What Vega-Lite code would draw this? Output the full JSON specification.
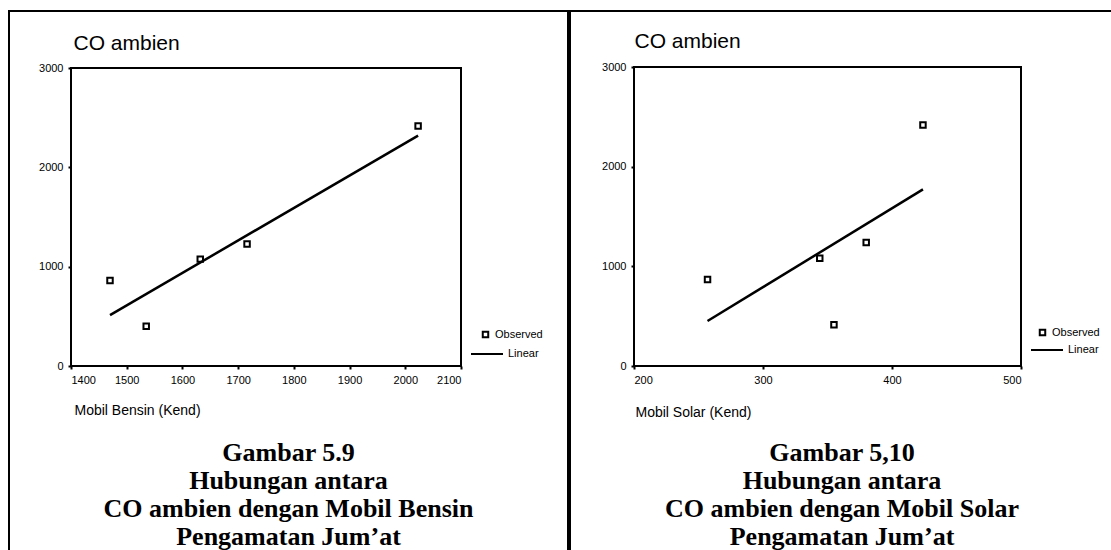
{
  "$schema": "https://vega.github.io/schema/vega-lite/v6.json",
  "padding": {"left": 8, "top": 10, "right": 0, "bottom": 0},
  "background": "white",
  "spacing": 0,
  "config": {
    "view": {"stroke": "black", "strokeWidth": 2},
    "font": "Liberation Sans",
    "axis": {"grid": false, "domain": false, "ticks": true, "tickColor": "black", "tickSize": 3, "tickWidth": 2, "labelColor": "black", "labelFont": "Liberation Sans", "labelFontSize": 11, "labelPadding": 5, "format": "d", "titleFont": "Liberation Sans", "titleFontWeight": "normal", "titleColor": "black"},
    "legend": {"labelFont": "Liberation Sans", "labelFontSize": 11, "labelColor": "black", "padding": 0},
    "title": {"font": "Liberation Serif", "fontWeight": "bold", "fontSize": 26, "color": "black", "lineHeight": 28}
  },
  "datasets": {
    "bensin_obs": [
      {"mobil": 1470, "co": 860, "series": "Observed"},
      {"mobil": 1535, "co": 400, "series": "Observed"},
      {"mobil": 1632, "co": 1076, "series": "Observed"},
      {"mobil": 1716, "co": 1228, "series": "Observed"},
      {"mobil": 2023, "co": 2417, "series": "Observed"}
    ],
    "bensin_lin": [
      {"mobil": 1470, "co": 512, "series": "Linear"},
      {"mobil": 2023, "co": 2320, "series": "Linear"}
    ],
    "solar_obs": [
      {"mobil": 257, "co": 868, "series": "Observed"},
      {"mobil": 355, "co": 415, "series": "Observed"},
      {"mobil": 344, "co": 1080, "series": "Observed"},
      {"mobil": 380, "co": 1240, "series": "Observed"},
      {"mobil": 424, "co": 2417, "series": "Observed"}
    ],
    "solar_lin": [
      {"mobil": 257, "co": 451, "series": "Linear"},
      {"mobil": 424, "co": 1772, "series": "Linear"}
    ],
    "frame": [{}]
  },
  "hconcat": [
    {
      "width": 559,
      "height": 540,
      "title": {"text": ["Gambar 5.9", "Hubungan antara", "CO ambien dengan Mobil Bensin", "Pengamatan Jum’at"], "orient": "bottom", "anchor": "middle", "frame": "group", "offset": -111},
      "layer": [
        {
          "data": {"name": "bensin_obs"},
          "mark": {"type": "point", "shape": "square", "filled": false, "color": "black", "strokeWidth": 2, "size": 30, "opacity": 1},
          "encoding": {
            "x": {"field": "mobil", "type": "quantitative", "scale": {"domain": [1400, 2100], "range": [62, 452], "nice": false, "zero": false}, "axis": {"orient": "bottom", "offset": -185, "values": [1400, 1500, 1600, 1700, 1800, 1900, 2000, 2100], "title": "Mobil Bensin (Kend)", "titleFontSize": 14, "titleX": 65, "titleY": 48, "titleAlign": "left", "titleBaseline": "alphabetic", "titleAnchor": "start"}},
            "y": {"field": "co", "type": "quantitative", "scale": {"domain": [0, 3000], "range": [355, 57], "nice": false}, "axis": {"orient": "left", "offset": -62, "values": [0, 1000, 2000, 3000], "title": "CO ambien", "titleAngle": 0, "titleFontSize": 21, "titleX": 2, "titleY": 38, "titleAlign": "left", "titleBaseline": "alphabetic"}},
            "shape": {"field": "series", "type": "nominal", "scale": {"domain": ["Observed"], "range": ["square"]}, "legend": {"title": null, "orient": "none", "legendX": 471, "legendY": 318, "symbolSize": 30, "symbolStrokeWidth": 2, "symbolStrokeColor": "black"}}
          }
        },
        {
          "data": {"name": "bensin_lin"},
          "mark": {"type": "line", "strokeWidth": 2.5},
          "encoding": {
            "x": {"field": "mobil", "type": "quantitative"},
            "y": {"field": "co", "type": "quantitative"},
            "color": {"field": "series", "type": "nominal", "scale": {"domain": ["Linear"], "range": ["black"]}, "legend": {"title": null, "orient": "none", "legendX": 461, "legendY": 326, "symbolType": "stroke", "symbolSize": 1024, "symbolStrokeWidth": 2}}
          }
        },
        {
          "data": {"name": "frame"},
          "mark": {"type": "rect", "filled": false, "color": "black", "strokeWidth": 2},
          "encoding": {
            "x": {"datum": 1400, "type": "quantitative"},
            "x2": {"datum": 2100},
            "y": {"datum": 0, "type": "quantitative"},
            "y2": {"datum": 3000}
          }
        }
      ]
    },
    {
      "width": 544,
      "height": 540,
      "title": {"text": ["Gambar 5,10", "Hubungan antara", "CO ambien dengan Mobil Solar", "Pengamatan Jum’at"], "orient": "bottom", "anchor": "middle", "frame": "group", "offset": -111},
      "layer": [
        {
          "data": {"name": "solar_obs"},
          "mark": {"type": "point", "shape": "square", "filled": false, "color": "black", "strokeWidth": 2, "size": 30, "opacity": 1},
          "encoding": {
            "x": {"field": "mobil", "type": "quantitative", "scale": {"domain": [200, 500], "range": [64, 451], "nice": false, "zero": false}, "axis": {"orient": "bottom", "offset": -185, "values": [200, 300, 400, 500], "title": "Mobil Solar (Kend)", "titleFontSize": 14, "titleX": 65, "titleY": 50, "titleAlign": "left", "titleBaseline": "alphabetic", "titleAnchor": "start"}},
            "y": {"field": "co", "type": "quantitative", "scale": {"domain": [0, 3000], "range": [355, 56], "nice": false}, "axis": {"orient": "left", "offset": -64, "values": [0, 1000, 2000, 3000], "title": "CO ambien", "titleAngle": 0, "titleFontSize": 21, "titleX": 0, "titleY": 36, "titleAlign": "left", "titleBaseline": "alphabetic"}},
            "shape": {"field": "series", "type": "nominal", "scale": {"domain": ["Observed"], "range": ["square"]}, "legend": {"title": null, "orient": "none", "legendX": 467, "legendY": 316, "symbolSize": 30, "symbolStrokeWidth": 2, "symbolStrokeColor": "black"}}
          }
        },
        {
          "data": {"name": "solar_lin"},
          "mark": {"type": "line", "strokeWidth": 2.5},
          "encoding": {
            "x": {"field": "mobil", "type": "quantitative"},
            "y": {"field": "co", "type": "quantitative"},
            "color": {"field": "series", "type": "nominal", "scale": {"domain": ["Linear"], "range": ["black"]}, "legend": {"title": null, "orient": "none", "legendX": 460, "legendY": 322, "symbolType": "stroke", "symbolSize": 1024, "symbolStrokeWidth": 2}}
          }
        },
        {
          "data": {"name": "frame"},
          "mark": {"type": "rect", "filled": false, "color": "black", "strokeWidth": 2},
          "encoding": {
            "x": {"datum": 200, "type": "quantitative"},
            "x2": {"datum": 500},
            "y": {"datum": 0, "type": "quantitative"},
            "y2": {"datum": 3000}
          }
        }
      ]
    }
  ],
  "resolve": {
    "scale": {"x": "independent", "y": "independent", "shape": "independent", "color": "independent"},
    "axis": {"x": "independent", "y": "independent"},
    "legend": {"shape": "independent", "color": "independent"}
  }
}
